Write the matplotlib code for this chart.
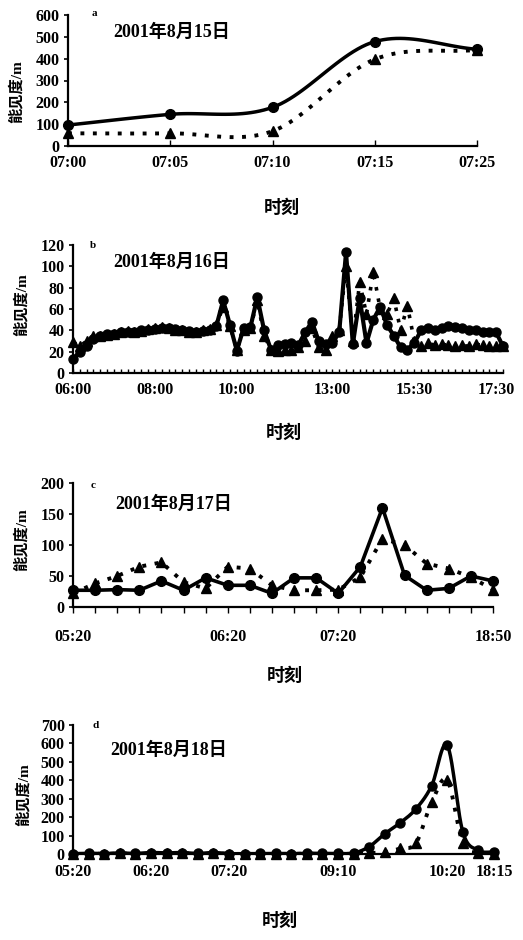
import numpy as np
import matplotlib
matplotlib.use("Agg")
import matplotlib.pyplot as plt

# panel a - 2001-08-15
labels_a = ["07:00", "07:05", "07:10", "07:15", "07:25"]
circ_a = [96, 145, 177, 478, 443]
tri_a = [58, 58, 68, 397, 440]

# panel b - 2001-08-16 (64 obs)
labels_b = ["06:00", "08:00", "10:00", "13:00", "15:30", "17:30"]
label_idx_b = [0, 12, 24, 38, 50, 62]
circ_b = [13, 20, 25, 32, 35, 37, 37, 38, 38, 38,
          40, 40, 41, 42, 42, 41, 40, 39, 38, 39,
          40, 44, 68, 45, 21, 42, 43, 71, 40, 22,
          26, 27, 28, 26, 38, 48, 30, 27, 28, 38,
          113, 27, 70, 28, 50, 62, 45, 35, 24, 22,
          28, 40, 42, 40, 42, 44, 43, 42, 40, 40,
          38, 38, 38, 25]
tri_b = [29, 25, 30, 35, 35, 36, 37, 38, 39, 38,
         39, 41, 42, 43, 42, 40, 40, 38, 38, 40,
         41, 45, 62, 44, 22, 40, 42, 68, 35, 22,
         21, 22, 22, 24, 30, 42, 24, 22, 35, 40,
         100, 30, 85, 55, 95, 60, 55, 70, 40, 63,
         30, 25, 28, 26, 27, 26, 25, 26, 25, 27,
         26, 25, 25, 25]

# panel c - 2001-08-17 (20 obs)
labels_c = ["05:20", "06:20", "07:20", "18:50"]
label_idx_c = [0, 7, 12, 19]
circ_c = [27, 27, 28, 27, 42, 27, 47, 35, 35, 22,
          47, 47, 22, 65, 160, 51, 27, 30, 50, 42]
tri_c = [22, 38, 50, 65, 72, 40, 30, 65, 62, 35,
         27, 27, 28, 48, 110, 100, 70, 62, 48, 28]

# panel d - 2001-08-18 (28 obs)
labels_d = ["05:20", "06:20", "07:20", "09:10", "10:20", "18:15"]
label_idx_d = [0, 5, 10, 17, 24, 27]
circ_d = [2, 4, 2, 6, 3, 8, 6, 8, 3, 8,
          2, 2, 3, 3, 2, 4, 3, 3, 5, 40,
          110, 170, 245, 370, 590, 120, 20, 10]
tri_d = [0, 2, 0, 3, 1, 4, 3, 4, 1, 4,
         0, 1, 1, 1, 0, 2, 1, 0, 2, 5,
         10, 30, 60, 280, 400, 60, 5, 0]

plt.rcParams['font.family'] = ['Liberation Serif', 'Noto Sans CJK SC']
plt.rcParams['font.weight'] = 'bold'

W, H = 523, 940


def smooth(y, steps=24):
    # Catmull-Rom curve through the points (Excel-style smoothed line)
    y = np.asarray(y, float)
    p = np.concatenate([[2 * y[0] - y[1]], y, [2 * y[-1] - y[-2]]])
    t = np.linspace(0, 1, steps, endpoint=False)
    xs, ys = [], []
    for i in range(len(y) - 1):
        p0, p1, p2, p3 = p[i:i + 4]
        ys.append(0.5 * (2 * p1 + (-p0 + p2) * t + (2 * p0 - 5 * p1 + 4 * p2 - p3) * t ** 2
                         + (-p0 + 3 * p1 - 3 * p2 + p3) * t ** 3))
        xs.append(i + t)
    xs.append([len(y) - 1])
    ys.append([y[-1]])
    return np.concatenate(xs), np.concatenate(ys)


def add_axes(left, right, top, bottom):
    return fig.add_axes([left / W, 1 - bottom / H, (right - left) / W, (bottom - top) / H])


def style(ax, n, ymax, ystep, labels, idx, tdir, tlen, pad):
    ax.set_xlim(0, n - 1)
    ax.set_ylim(0, ymax)
    ax.set_yticks(np.arange(0, ymax + 1, ystep))
    ax.set_xticks(range(n))
    ax.set_xticklabels([labels[idx.index(i)] if i in idx else "" for i in range(n)])
    for s in ["top", "right"]:
        ax.spines[s].set_visible(False)
    for s in ["left", "bottom"]:
        ax.spines[s].set_linewidth(1.6)
    ax.tick_params(axis="x", direction=tdir, length=tlen, width=1.0, pad=pad, labelsize=11.5)
    ax.tick_params(axis="y", direction="out", length=3, width=1.2, pad=3, labelsize=11.5)
    ax.patch.set_alpha(0)


dot = (0, (1, 2.2))
fig = plt.figure(figsize=(W / 100, H / 100), dpi=100)

# ---- a
ax = add_axes(68, 477, 15, 146)
x = np.arange(len(circ_a))
sx, sy = smooth(circ_a)
ax.plot(sx, sy, color="black", lw=2.5, clip_on=False)
ax.plot(x, circ_a, "o", color="black", ms=7, clip_on=False)
sx, sy = smooth(tri_a)
ax.plot(sx, sy, color="black", lw=2.8, ls=dot, clip_on=False)
ax.plot(x, tri_a, "^", color="black", ms=7.5, clip_on=False)
style(ax, len(circ_a), 600, 100, labels_a, list(range(5)), "in", 4, 6.8)

# ---- b
ax = add_axes(73, 503, 245, 373)
x = np.arange(len(circ_b))
ax.plot(x, tri_b, color="black", lw=2.6, ls=dot, marker="^", ms=6.5, clip_on=False)
ax.plot(x, circ_b, color="black", lw=3.0, marker="o", ms=6.5, clip_on=False)
style(ax, len(circ_b), 120, 20, labels_b, label_idx_b, "in", 3, 6.8)

# ---- c
ax = add_axes(73, 493, 483, 607)
x = np.arange(len(circ_c))
ax.plot(x, tri_c, color="black", lw=2.8, ls=dot, marker="^", ms=7, clip_on=False)
ax.plot(x, circ_c, color="black", lw=2.6, marker="o", ms=7, clip_on=False)
style(ax, len(circ_c), 200, 50, labels_c, label_idx_c, "out", 4, 12)

# ---- d
ax = add_axes(73, 494, 725, 854)
x = np.arange(len(circ_d))
sx, sy = smooth(tri_d)
ax.plot(sx, sy, color="black", lw=2.8, ls=dot)
ax.plot(x, tri_d, "^", color="black", ms=7, clip_on=False)
sx, sy = smooth(circ_d)
ax.plot(sx, sy, color="black", lw=2.5)
ax.plot(x, circ_d, "o", color="black", ms=6.5, clip_on=False)
style(ax, len(circ_d), 700, 100, labels_d, label_idx_d, "out", 0, 7.5)

# ---- texts
def ftext(px, py, s, **kw):
    fig.text(px / W, 1 - py / H, s, **kw)

for (lx, ly, ch) in [(94, 14, "a"), (93, 245, "b"), (93, 486, "c"), (96, 725, "d")]:
    ftext(lx, ly, ch, fontsize=8, ha="center", va="center")

for (dx, dy, s) in [(113, 32, "2001年8月15日"), (113, 262, "2001年8月16日"),
                    (115, 504, "2001年8月17日"), (110, 750, "2001年8月18日")]:
    ftext(dx, dy, s, fontsize=13, ha="left", va="center")

for (yx, yy) in [(16, 92), (21, 305), (21, 540), (23, 795)]:
    ftext(yx, yy, "能见度/m", fontsize=11, rotation=90, ha="center", va="center")

for (tx, ty) in [(282, 208), (284, 433), (285, 676), (280, 921)]:
    ftext(tx, ty, "时刻", fontsize=13, ha="center", va="center")

fig.savefig("out.png", dpi=100)
